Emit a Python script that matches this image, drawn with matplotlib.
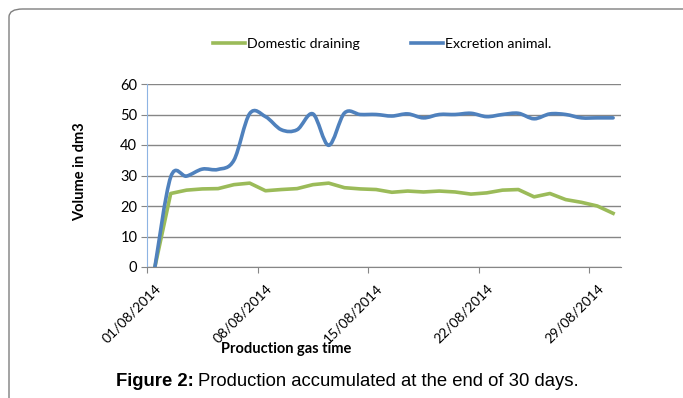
import numpy as np
import matplotlib.pyplot as plt
import matplotlib.transforms as mtransforms
from matplotlib.path import Path
from matplotlib.patches import PathPatch, FancyBboxPatch
from matplotlib.lines import Line2D

# data (one value per day, 01/08 .. 30/08)
days = np.arange(1, 31)
domestic = [0, 24.1, 25.2, 25.6, 25.7, 27.0, 27.5, 25.0, 25.4, 25.7,
            27.0, 27.5, 26.0, 25.6, 25.4, 24.5, 24.9, 24.6, 24.9, 24.6,
            23.9, 24.3, 25.2, 25.4, 23.0, 24.1, 22.1, 21.2, 20.0, 17.6]
excretion = [0, 29.5, 29.8, 32.1, 32.0, 35.0, 50.3, 49.3, 45.0, 45.0,
             50.2, 39.9, 50.5, 50.0, 50.0, 49.5, 50.2, 48.9, 50.0, 50.0,
             50.4, 49.3, 50.0, 50.4, 48.6, 50.2, 50.0, 48.9, 48.9, 48.9]
tick_days = [0.5, 7.5, 14.5, 21.5, 28.5]
tick_labels = ['01/08/2014', '08/08/2014', '15/08/2014', '22/08/2014', '29/08/2014']

GREEN = '#9BBB59'
BLUE = '#4F81BD'
GRID = '#868686'
FONT = 'Lato'


def smooth_path(x, y):
    # bezier curve through the points, like excel's "smoothed line"
    pts = np.column_stack([x, y]).astype(float)
    n = len(pts)
    verts = [pts[0]]
    codes = [Path.MOVETO]
    for i in range(n - 1):
        p0 = pts[i - 1] if i > 0 else pts[i]
        p3 = pts[i + 2] if i + 2 < n else pts[i + 1]
        c1 = pts[i] + (pts[i + 1] - p0) / 6
        c2 = pts[i + 1] - (p3 - pts[i]) / 6
        verts += [c1, c2, pts[i + 1]]
        codes += [Path.CURVE4] * 3
    return Path(verts, codes)


fig = plt.figure(figsize=(6.83, 3.98), dpi=100)

# outer frame of the figure box
frame = FancyBboxPatch((9 / 683, -0.1), 1.2, 1 - 9 / 398 + 0.1,
                       boxstyle='round,pad=0,rounding_size=0.02',
                       transform=fig.transFigure, fill=False,
                       edgecolor='#7F7F7F', lw=1.0, clip_on=False)
fig.patches.append(frame)

ax = fig.add_axes([147 / 683, 1 - 267 / 398, (621 - 147) / 683, (267 - 84) / 398])

ax.plot(days, domestic, color=GREEN, lw=2.6, solid_joinstyle='round', zorder=3)
ax.add_patch(PathPatch(smooth_path(days, excretion), fill=False, edgecolor=BLUE,
                       lw=2.6, joinstyle='round', capstyle='round', zorder=4))

ax.set_xlim(0.5, 30.5)
ax.set_ylim(0, 60)
ax.set_yticks(range(0, 61, 10))
ax.set_xticks(tick_days)
ax.set_xticklabels([])
for lab in ax.get_yticklabels():
    lab.set_fontfamily(FONT)
    lab.set_fontsize(10.5)

# date labels drawn by hand so they can sit a little right of the ticks
shift = mtransforms.ScaledTranslation(0.12, -0.19, fig.dpi_scale_trans)
for d, lab in zip(tick_days, tick_labels):
    ax.text(d, 0, lab, transform=ax.get_xaxis_transform() + shift, rotation=45,
            ha='right', va='center', rotation_mode='anchor',
            fontfamily=FONT, fontsize=10, clip_on=False)

ax.grid(axis='y', color=GRID, lw=1.0)
ax.set_axisbelow(True)
for s in ['top', 'right']:
    ax.spines[s].set_visible(False)
ax.spines['left'].set_color('#8EB4E3')
ax.spines['bottom'].set_color(GRID)
ax.tick_params(axis='y', length=4, color=GRID, pad=3)
ax.tick_params(axis='x', length=4, color=GRID)

fig.text(80 / 683, 1 - 172 / 398, 'Volume in dm3', rotation=90, ha='center', va='center',
         fontfamily=FONT, fontweight='bold', fontsize=10.5)
fig.text(286 / 683, 1 - 349 / 398, 'Production gas time', ha='center', va='center',
         fontfamily=FONT, fontweight='bold', fontsize=10.5)

handles = [Line2D([], [], color=GREEN, lw=2.6), Line2D([], [], color=BLUE, lw=2.6)]
fig.legend(handles, ['Domestic draining', 'Excretion animal.'], loc='center',
           bbox_to_anchor=(382 / 683, 1 - 44 / 398), ncol=2, frameon=False,
           prop={'family': FONT, 'size': 10.2}, handlelength=2.26, handletextpad=0.15,
           columnspacing=3.6)

# caption: bold "Figure 2:" followed by normal text
cap1 = fig.text(116 / 683, 1 - 381 / 398, 'Figure 2:', ha='left', va='center',
                fontfamily='Liberation Sans', fontweight='bold', fontsize=13.3)
fig.canvas.draw()
bb = cap1.get_window_extent()
fig.text((bb.x1 + 4) / 683, 1 - 381 / 398, 'Production accumulated at the end of 30 days.',
         ha='left', va='center', fontfamily='Liberation Sans', fontsize=13.3)

fig.savefig('out.png', dpi=100)
